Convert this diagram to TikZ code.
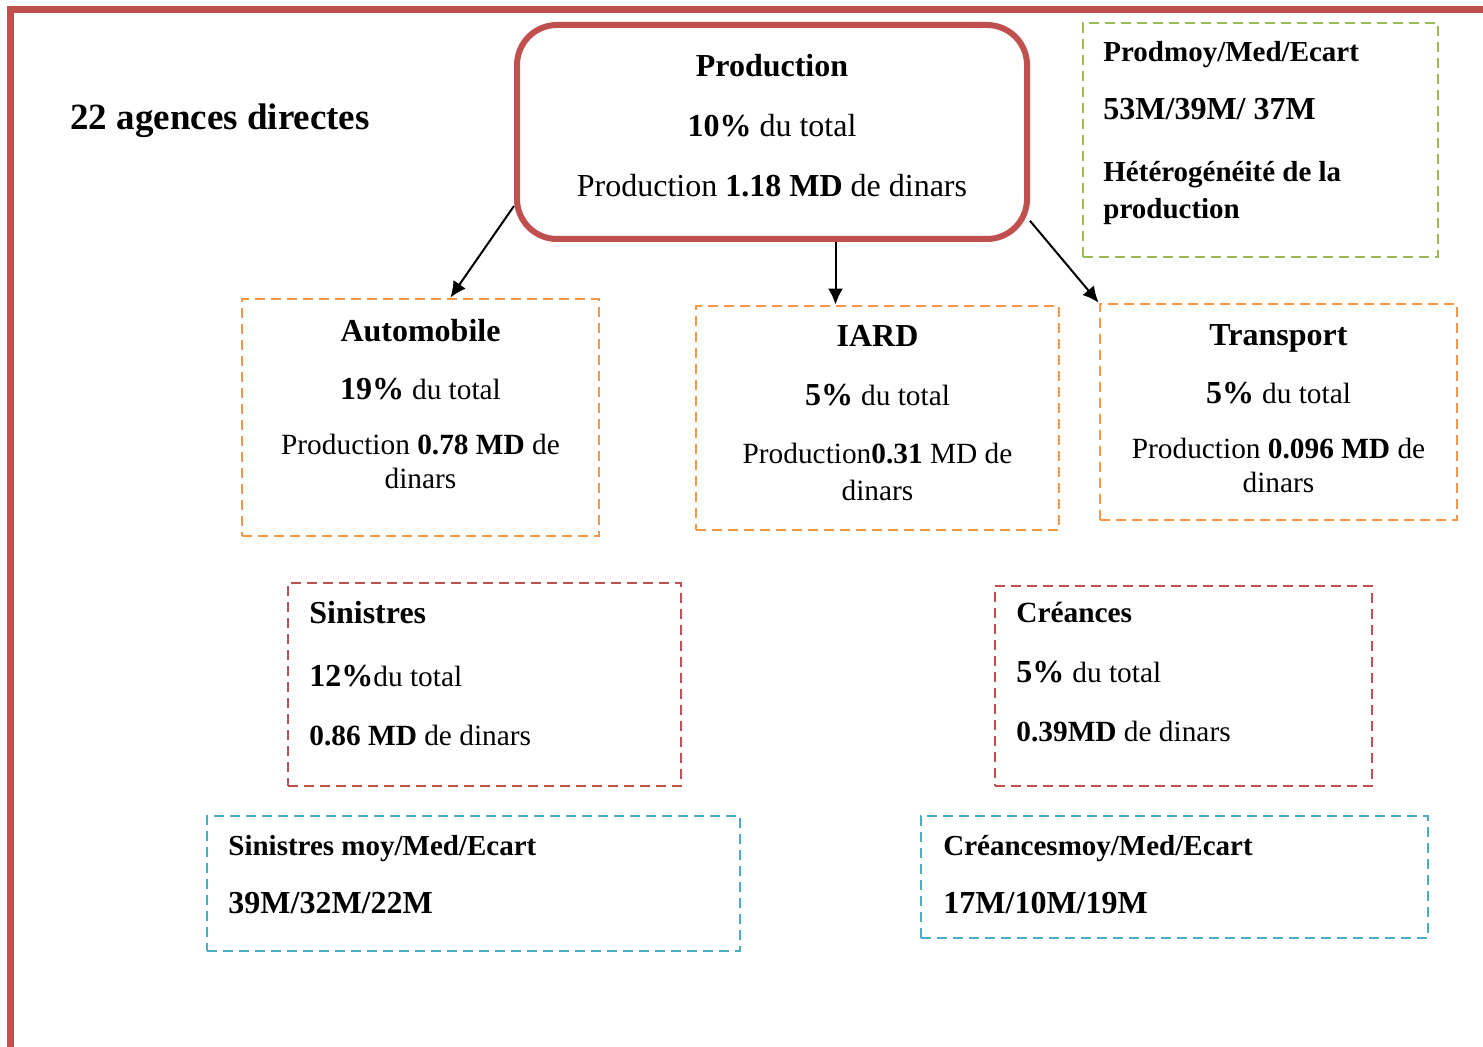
\documentclass[tikz,border=0pt]{standalone}
\usepackage{fontspec}
\setmainfont{Liberation Serif}
\usetikzlibrary{arrows.meta}
\definecolor{redacc}{HTML}{C0504D}
\definecolor{greenacc}{HTML}{9BBB59}
\definecolor{orangeacc}{HTML}{F79646}
\definecolor{blueacc}{HTML}{4BACC6}
\newcommand{\smtxt}{\fontsize{14.67}{17}\selectfont}
\begin{document}
\begin{tikzpicture}[x=0.5pt, y=-0.5pt, >={Latex[length=8pt,width=7.5pt]}]
\tikzstyle{roundrect} = [rectangle, rounded corners=20pt, draw=redacc, line width=3pt, inner sep=0pt]
\tikzstyle{dashbox} = [rectangle, draw, line width=1.4pt, dash pattern=on 5pt off 3pt, inner sep=0pt]
\tikzstyle{txtc} = [inner sep=0pt, anchor=north, align=center, font=\fontsize{16}{17}\selectfont]
\tikzstyle{txtl} = [inner sep=0pt, anchor=north west, align=left, font=\fontsize{16}{17}\selectfont]
\useasboundingbox (0,0) rectangle (1483,1047);
\draw [redacc, line width=3.5pt] (10,1047) -- (10,10) -- (1483,10);
\node (title) [anchor=west, inner sep=0pt, font=\fontsize{18.5}{20}\selectfont\bfseries] at (70,121) {22 agences directes};
\node (prod) [roundrect, minimum width=255pt, minimum height=107pt] at (772,132) {};
\node (prodtxt) [txtc] at (772,54) {\textbf{Production}\\[13pt] \textbf{10\%} du total\\[13pt] Production \textbf{1.18 MD} de dinars};
\node (stats) [dashbox, draw=greenacc, minimum width=177.5pt, minimum height=117pt] at (1260.5,140) {};
\node (statstxt) [txtl, font=\fontsize{16}{18.5}\selectfont\bfseries] at (1103,41) {{\fontsize{14.5}{18.5}\selectfont Prodmoy/Med/Ecart}\\[10.5pt] 53M/39M/ 37M\\[12.5pt] {\fontsize{14.5}{18.5}\selectfont Hétérogénéité de la}\\ {\fontsize{14.5}{18.5}\selectfont production}};
\node (auto) [dashbox, draw=orangeacc, minimum width=178.5pt, minimum height=118.5pt] at (420.5,417.5) {};
\node (autotxt) [txtc] at (420.5,319) {\textbf{Automobile}\\[12pt] \textbf{19\%} {\smtxt du total}\\[10.5pt] \smtxt Production \textbf{0.78 MD} de\\ \smtxt dinars};
\node (iard) [dashbox, draw=orangeacc, minimum width=181.5pt, minimum height=112pt] at (877.5,418) {};
\node (iardtxt) [txtc] at (877.5,325) {\textbf{IARD}\\[12.5pt] \textbf{5\%} {\smtxt du total}\\[12pt] \smtxt Production\textbf{0.31} MD de\\[1.5pt] \smtxt dinars};
\node (trans) [dashbox, draw=orangeacc, minimum width=178.5pt, minimum height=108pt] at (1278.5,412) {};
\node (transtxt) [txtc] at (1278.5,324) {\textbf{Transport}\\[12pt] \textbf{5\%} {\smtxt du total}\\[10.5pt] \smtxt Production \textbf{0.096 MD} de\\ \smtxt dinars};
\node (sin) [dashbox, draw=redacc, minimum width=196.5pt, minimum height=101.5pt] at (484.5,684.5) {};
\node (sintxt) [txtl] at (309,601) {\textbf{Sinistres}\\[14.5pt] \textbf{12\%}{\smtxt du total}\\[12.5pt] \smtxt\textbf{0.86 MD} de dinars};
\node (cre) [dashbox, draw=redacc, minimum width=188.5pt, minimum height=100pt] at (1183.5,686) {};
\node (cretxt) [txtl] at (1016,602) {\smtxt\textbf{Créances}\\[13pt] \textbf{5\%} {\smtxt du total}\\[12.5pt] \smtxt\textbf{0.39MD} de dinars};
\node (sinmoy) [dashbox, draw=blueacc, minimum width=266.5pt, minimum height=67.5pt] at (473.5,883.5) {};
\node (sinmoytxt) [txtl, font=\fontsize{16}{17}\selectfont\bfseries] at (228,835) {{\fontsize{14.5}{17}\selectfont Sinistres moy/Med/Ecart}\\[12pt] 39M/32M/22M};
\node (cremoy) [dashbox, draw=blueacc, minimum width=253.5pt, minimum height=61pt] at (1174.5,877) {};
\node (cremoytxt) [txtl, font=\fontsize{16}{17}\selectfont\bfseries] at (943,835) {{\fontsize{14.5}{17}\selectfont Créancesmoy/Med/Ecart}\\[12pt] 17M/10M/19M};
\draw [->, line width=1pt] (prod.196) -- (auto.76);
\draw [->, line width=1pt] (prod.300) -- (prod.300 |- iard.north);
\draw [->, line width=1pt] (prod.341) -- (trans.north west);
\end{tikzpicture}
\end{document}
